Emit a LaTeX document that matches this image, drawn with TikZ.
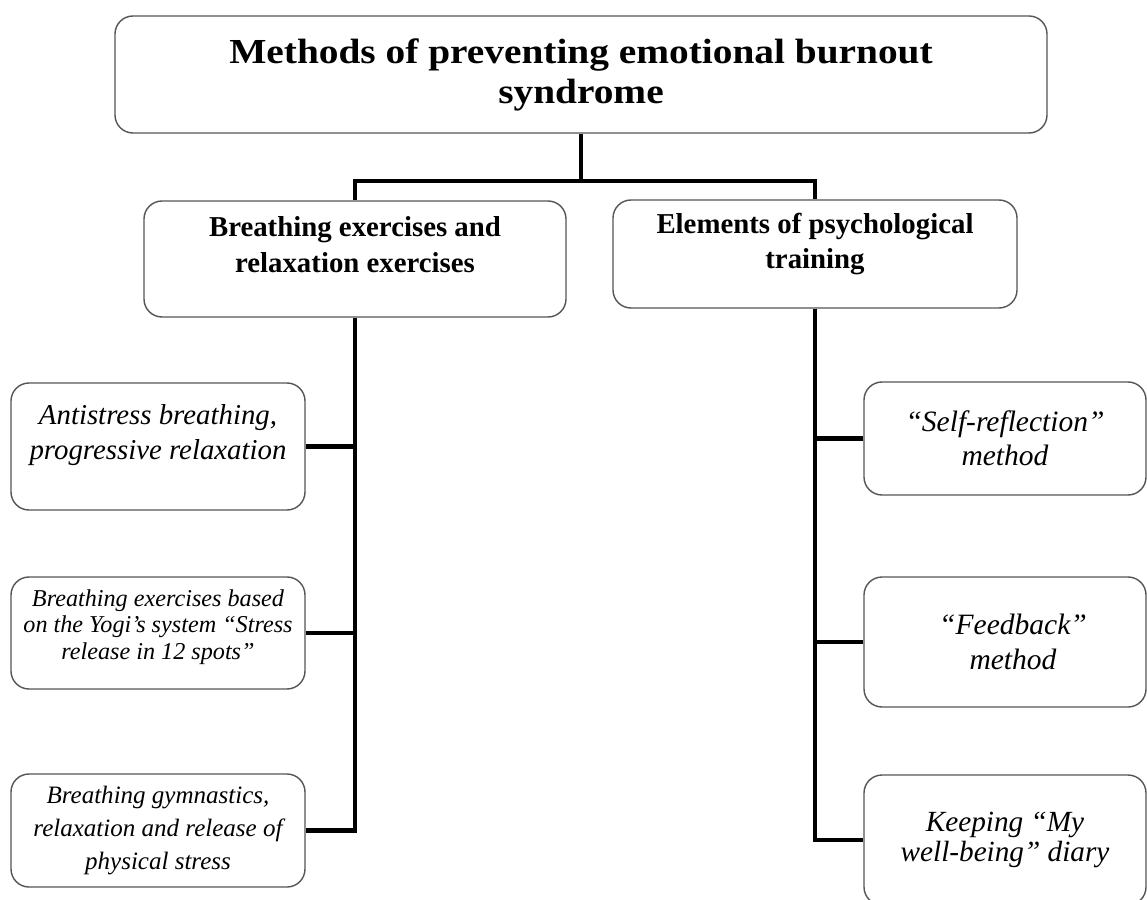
\documentclass[tikz,border=0pt]{standalone}
\usepackage{fontspec}
\setmainfont{Liberation Serif}
\newfontfamily\headfont[FakeStretch=1.12]{Liberation Serif}
\usetikzlibrary{positioning,calc}
\definecolor{boxline}{HTML}{555555}

\begin{document}
\begin{tikzpicture}[
  every node/.style={font=\rmfamily},
  frame/.style={
    draw=boxline, line width=1pt, rounded corners=0.45cm,
  },
  headtext/.style={align=center, font=\headfont\fontsize{25}{28.5}\selectfont\bfseries},
  grouptext/.style={align=center, font=\fontsize{20.5}{25}\selectfont\bfseries},
  itemtext/.style={align=center, font=\fontsize{20.5}{25}\selectfont\itshape},
  link/.style={draw=black, line width=3pt},
]
  \useasboundingbox (0,0) rectangle (28.675,-22.5);
  \clip (0,0) rectangle (28.675,-22.5);

  % boxes
  \node[frame, minimum width=23.3cm, minimum height=2.925cm] (title) at (14.525,-1.8625) {};
  \node[frame, minimum width=10.55cm, minimum height=2.9cm]  (breath) at (8.875,-6.475) {};
  \node[frame, minimum width=10.1cm, minimum height=2.7cm]   (train) at (20.375,-6.35) {};

  \node[frame, minimum width=7.35cm, minimum height=3.175cm] (anti) at (3.95,-11.1625) {};
  \node[frame, minimum width=7.35cm, minimum height=2.8cm]   (yogi) at (3.95,-15.825) {};
  \node[frame, minimum width=7.35cm, minimum height=2.825cm] (gym)  at (3.95,-20.7625) {};

  \node[frame, minimum width=7.05cm, minimum height=2.825cm] (self)  at (25.125,-10.9625) {};
  \node[frame, minimum width=7.05cm, minimum height=3.25cm]  (feed)  at (25.125,-16.05) {};
  \node[frame, minimum width=7.05cm, minimum height=3.25cm]  (diary) at (25.125,-21.0) {};

  % texts
  \node[headtext] (title-t) at (title.center)
    {Methods of preventing emotional burnout\\syndrome};
  \node[grouptext] (breath-t) at ([yshift=0.36cm]breath.center)
    {Breathing exercises and\\relaxation exercises};
  \node[grouptext] (train-t) at ([yshift=0.24cm]train.center)
    {Elements of psychological\\training};

  \node[itemtext, yshift=0.29cm] (anti-t) at (anti.center)
    {Antistress breathing,\\progressive relaxation};
  \node[itemtext, yshift=0.15cm, font=\fontsize{17.2}{19}\selectfont\itshape] (yogi-t) at (yogi.center)
    {Breathing exercises based\\on the Yogi's system ``Stress\\release in 12 spots''};
  \node[itemtext, font=\fontsize{17.8}{23.5}\selectfont\itshape] (gym-t) at (gym.center)
    {Breathing gymnastics,\\relaxation and release of\\physical stress};

  \node[itemtext, font=\fontsize{21}{24}\selectfont\itshape] (self-t) at (self.center)
    {``Self-reflection''\\method};
  \node[itemtext, font=\fontsize{21}{25}\selectfont\itshape] (feed-t) at ([xshift=0.2cm]feed.center)
    {``Feedback''\\method};
  \node[itemtext, font=\fontsize{20.8}{21.5}\selectfont\itshape] (diary-t) at (diary.center)
    {Keeping ``My\\well-being'' diary};

  % tree lines
  \coordinate (fork) at ([yshift=-1.175cm]title.south);
  \draw[link] (title.south) -- (fork);
  \draw[link] (fork) -| (breath.north);
  \draw[link] (fork) -| (train.north);

  \draw[link] (breath.south) |- (gym.east);
  \draw[link] (anti.east) -- (anti.east -| breath.south);
  \draw[link] (yogi.east) -- (yogi.east -| breath.south);

  \draw[link] (train.south) |- (diary.west);
  \draw[link] (self.west) -- (self.west -| train.south);
  \draw[link] (feed.west) -- (feed.west -| train.south);
\end{tikzpicture}
\end{document}
